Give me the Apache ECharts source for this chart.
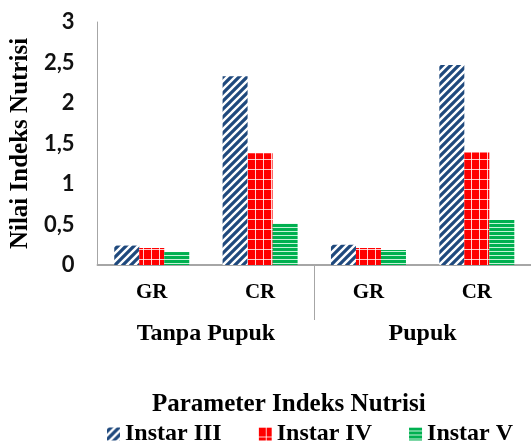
<!DOCTYPE html>
<html>
<head>
<meta charset="utf-8">
<script src="https://cdn.jsdelivr.net/npm/echarts@6/dist/echarts.min.js"></script>
<style>
  html, body { margin: 0; padding: 0; background: #ffffff; }
  #chart { width: 531px; height: 445px; }
</style>
</head>
<body>
<div id="chart"></div>
<script>
// Nutrition index parameters per treatment group
const categories = ['GR', 'CR', 'GR', 'CR'];
const groups = ['Tanpa Pupuk', 'Pupuk'];
const seriesNames = ['Instar III', 'Instar IV', 'Instar V'];
const instarIII = [0.24, 2.33, 0.25, 2.47];
const instarIV = [0.21, 1.38, 0.21, 1.39];
const instarV = [0.16, 0.51, 0.185, 0.555];
const yTicks = [0, 0.5, 1, 1.5, 2, 2.5, 3];

const serif = '"Liberation Serif", "Times New Roman", serif';
const sans = 'Lato, "Open Sans", sans-serif';

// Pattern tiles for the bar fills
function tile(w, h, draw) {
  const c = document.createElement('canvas');
  c.width = w; c.height = h;
  draw(c.getContext('2d'));
  return { image: c, repeat: 'repeat' };
}
const diagonalNavy = tile(8, 8, g => {
  g.fillStyle = '#1F497D'; g.fillRect(0, 0, 8, 8);
  g.strokeStyle = '#ffffff'; g.lineWidth = 2.4;
  g.beginPath();
  g.moveTo(-2, 10); g.lineTo(10, -2);
  g.moveTo(-6, 6); g.lineTo(6, -6);
  g.moveTo(2, 14); g.lineTo(14, 2);
  g.stroke();
});
const gridRed = tile(8, 10, g => {
  g.fillStyle = '#FF0000'; g.fillRect(0, 0, 8, 10);
  g.fillStyle = 'rgba(255,255,255,0.8)';
  g.fillRect(7, 0, 1, 10);
  g.fillRect(0, 9, 8, 1);
});
const stripeGreen = tile(4, 4, g => {
  g.fillStyle = '#00B050'; g.fillRect(0, 0, 4, 4);
  g.fillStyle = 'rgba(230,255,240,0.85)';
  g.fillRect(0, 3, 4, 1);
});

const fills = [diagonalNavy, gridRed, stripeGreen];
const values = [instarIII, instarIV, instarV];

const chart = echarts.init(document.getElementById('chart'), null, { renderer: 'canvas' });
chart.setOption({
  backgroundColor: '#ffffff',
  animation: false,
  title: {
    text: 'Parameter Indeks Nutrisi',
    left: 152, top: 392, padding: 0,
    textStyle: { fontFamily: serif, fontWeight: 'bold', fontSize: 25, color: '#000' }
  },
  legend: {
    data: seriesNames,
    left: 107, top: 422, padding: 0,
    itemWidth: 13, itemHeight: 13, itemGap: 37,
    icon: 'rect',
    textStyle: { fontFamily: serif, fontWeight: 'bold', fontSize: 24, color: '#000' }
  },
  grid: { left: 95, right: -10, top: 22, bottom: 180, containLabel: false },
  xAxis: [
    {
      type: 'category',
      data: categories,
      position: 'bottom',
      axisLine: { show: true, lineStyle: { color: '#A6A6A6', width: 2 } },
      axisTick: { show: false },
      axisLabel: {
        margin: 17, interval: 0,
        fontFamily: serif, fontWeight: 'bold', fontSize: 21, color: '#000'
      }
    },
    {
      type: 'value',
      min: 0, max: 2,
      position: 'bottom',
      axisLine: { show: false },
      splitLine: { show: false },
      axisTick: {
        show: true, customValues: [1], length: 55, inside: false,
        lineStyle: { color: '#A6A6A6', width: 1 }
      },
      axisLabel: {
        show: true, customValues: [0.5, 1.5], margin: 57,
        formatter: v => groups[Math.floor(v)],
        fontFamily: serif, fontWeight: 'bold', fontSize: 24, color: '#000'
      }
    }
  ],
  yAxis: {
    type: 'value',
    min: yTicks[0], max: yTicks[yTicks.length - 1], interval: 0.5,
    name: 'Nilai Indeks Nutrisi',
    nameLocation: 'middle',
    nameGap: 49,
    nameTextStyle: { fontFamily: serif, fontWeight: 'bold', fontSize: 25, color: '#000' },
    axisLine: { show: true, lineStyle: { color: '#A6A6A6', width: 1 } },
    axisTick: { show: false },
    splitLine: { show: false },
    axisLabel: {
      margin: 23,
      formatter: v => String(v).replace('.', ','),
      fontFamily: sans, fontWeight: 'bold', fontSize: 22, color: '#111'
    }
  },
  series: seriesNames.map((name, i) => ({
    name: name,
    type: 'bar',
    xAxisIndex: 0,
    data: values[i],
    barWidth: 25,
    barGap: '0%',
    itemStyle: { color: fills[i] }
  }))
});
</script>
</body>
</html>
